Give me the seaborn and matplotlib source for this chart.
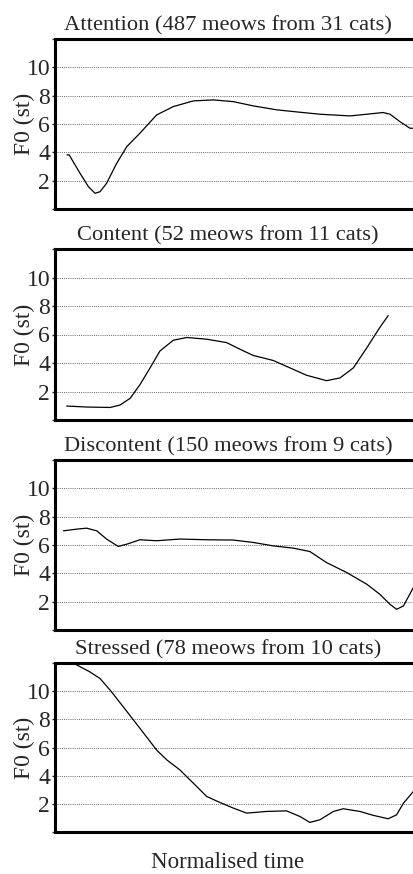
import numpy as np
import pandas as pd
import matplotlib
matplotlib.use("Agg")
import matplotlib.pyplot as plt
import seaborn as sns

# ---- data (normalised time, F0 in semitones) ----
att_t = [0.033, 0.039, 0.069, 0.092, 0.110, 0.124, 0.142, 0.170, 0.198, 0.234, 0.280, 0.326,
         0.381, 0.436, 0.491, 0.546, 0.611, 0.675, 0.730, 0.813, 0.859, 0.904, 0.923, 0.950,
         0.978, 0.987]
att_f0 = [3.82, 3.82, 2.52, 1.58, 1.11, 1.22, 1.81, 3.23, 4.41, 5.35, 6.64, 7.23,
          7.63, 7.70, 7.58, 7.28, 7.00, 6.83, 6.69, 6.57, 6.69, 6.81, 6.69, 6.17,
          5.70, 5.70]

con_t = [0.032, 0.087, 0.152, 0.179, 0.207, 0.234, 0.262, 0.289, 0.326, 0.363, 0.418, 0.473,
         0.510, 0.546, 0.601, 0.647, 0.693, 0.748, 0.785, 0.822, 0.859, 0.895, 0.918]
con_f0 = [0.98, 0.91, 0.88, 1.05, 1.52, 2.48, 3.66, 4.84, 5.60, 5.79, 5.67, 5.43,
          4.96, 4.53, 4.18, 3.66, 3.14, 2.76, 2.95, 3.66, 5.07, 6.50, 7.33]

dis_t = [0.023, 0.060, 0.087, 0.115, 0.142, 0.174, 0.198, 0.234, 0.280, 0.344, 0.418, 0.491,
         0.546, 0.601, 0.656, 0.702, 0.748, 0.804, 0.859, 0.895, 0.923, 0.941, 0.960, 0.987,
         0.997]
dis_f0 = [7.00, 7.12, 7.19, 7.00, 6.42, 5.90, 6.06, 6.37, 6.30, 6.42, 6.37, 6.35,
          6.18, 5.94, 5.78, 5.54, 4.76, 4.05, 3.23, 2.52, 1.81, 1.46, 1.70, 2.99,
          3.30]

str_t = [0.046, 0.096, 0.124, 0.152, 0.188, 0.234, 0.280, 0.308, 0.344, 0.381, 0.418, 0.455,
         0.491, 0.528, 0.583, 0.638, 0.675, 0.702, 0.730, 0.767, 0.794, 0.840, 0.877, 0.918,
         0.941, 0.960, 0.987]
str_f0 = [12.05, 11.37, 10.90, 10.07, 8.89, 7.36, 5.82, 5.12, 4.41, 3.47, 2.52, 2.09,
          1.70, 1.34, 1.46, 1.50, 1.10, 0.68, 0.87, 1.46, 1.65, 1.46, 1.18, 0.94,
          1.22, 2.05, 2.87]

titles = ["Attention (487 meows from 31 cats)",
          "Content (52 meows from 11 cats)",
          "Discontent (150 meows from 9 cats)",
          "Stressed (78 meows from 10 cats)"]
y_ticks = [0, 2, 4, 6, 8, 10, 12]
y_ticklabels = ["", "2", "4", "6", "8", "10", ""]
x_label = "Normalised time"
y_label = "F0 (st)"

series = [(att_t, att_f0), (con_t, con_f0), (dis_t, dis_f0), (str_t, str_f0)]

sns.set_style("white")
plt.rcParams['font.family'] = ['Liberation Serif', 'DejaVu Serif']

W, H = 414, 874
fig = plt.figure(figsize=(W / 100, H / 100), dpi=100)

# axes pixel boxes (top, bottom)
boxes = [(39, 209), (249, 420), (460, 630), (663, 832)]
ax_left, ax_right = 55, 418
cx = (228 - ax_left) / (ax_right - ax_left)

for i, ((t, f0), title, (top, bot)) in enumerate(zip(series, titles, boxes)):
    ax = fig.add_axes([ax_left / W, 1 - bot / H, (ax_right - ax_left) / W, (bot - top) / H])
    df = pd.DataFrame({"t": t, "f0": f0})
    sns.lineplot(data=df, x="t", y="f0", ax=ax, color="black", linewidth=0.9)
    ax.set_xlim(0, 1)
    ax.set_ylim(0, 12)
    ax.set_yticks(y_ticks)
    ax.set_yticklabels(y_ticklabels, fontsize=17)
    ax.set_xticks([])
    ax.tick_params(axis="y", direction="out", length=2.5, width=1, pad=1, left=True)
    ax.yaxis.grid(True, linestyle=(0, (1, 1.2)), color="#666666", linewidth=0.7)
    ax.set_axisbelow(True)
    for s in ["left", "top", "bottom", "right"]:
        ax.spines[s].set_linewidth(2.2)
        ax.spines[s].set_color("black")
    ax.set_ylabel(y_label, fontsize=17, labelpad=-6)
    if i == 3:
        ax.set_xlabel(x_label, fontsize=16.5)
        ax.xaxis.set_label_coords(cx, -0.12)
    else:
        ax.set_xlabel("")
    ax.set_title(title, fontsize=16.2, x=cx, pad=6)

fig.savefig("out.png", dpi=100)
